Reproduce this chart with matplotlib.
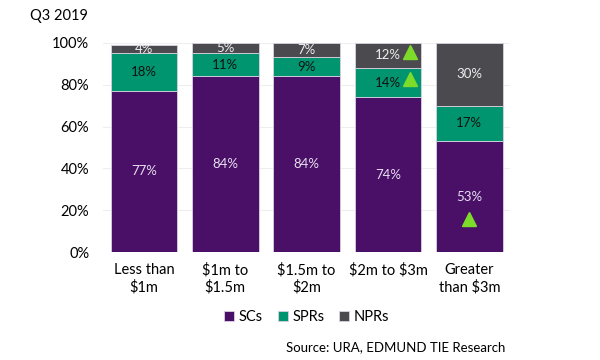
import matplotlib.pyplot as plt
import numpy as np

plt.rcParams["font.family"] = ["Lato", "DejaVu Sans"]
plt.rcParams["text.parse_math"] = False

categories = ["Less than\n$1m", "$1m to\n$1.5m", "$1.5m to\n$2m", "$2m to $3m", "Greater\nthan $3m"]
scs = [77, 84, 84, 74, 53]
sprs = [18, 11, 9, 14, 17]
nprs = [4, 5, 7, 12, 30]
# (bar index, series) pairs flagged with an up-arrow
increases = [(3, "NPRs"), (3, "SPRs"), (4, "SCs")]

colors = {"SCs": "#4a0f67", "SPRs": "#00956f", "NPRs": "#4b4a4f"}
text_colors = {"SCs": "#e6e0ee", "SPRs": "#111111", "NPRs": "#eeeeee"}

fig = plt.figure(figsize=(6, 3.6), dpi=100)
ax = fig.add_axes([0.172, 0.30, 0.678, 0.581])

x = np.arange(len(categories))
width = 0.82
series = [("SCs", scs), ("SPRs", sprs), ("NPRs", nprs)]
bottom = np.zeros(len(categories))
centers = {}
for name, vals in series:
    vals = np.array(vals, dtype=float)
    ax.bar(x, vals, width, bottom=bottom, color=colors[name], edgecolor="#d9d2e3",
           linewidth=0.6, label=name, zorder=2)
    mids = bottom + vals / 2
    centers[name] = mids
    for i, v in enumerate(vals):
        ax.text(x[i], mids[i], f"{int(v)}%", ha="center", va="center",
                fontsize=9.5, color=text_colors[name], zorder=3)
    bottom = bottom + vals

for i, name in increases:
    if name == "SCs":
        ax.plot(x[i], centers[name][i] - 10.5, marker="^", markersize=10,
                color="#7ddc2a", linestyle="none", zorder=4)
    else:
        ax.plot(x[i] + 0.27, centers[name][i] + 1.5, marker="^", markersize=10,
                color="#7ddc2a", linestyle="none", zorder=4)

ax.set_xlim(-0.5, len(categories) - 0.5)
ax.set_ylim(0, 100)
ax.set_yticks(np.arange(0, 101, 20))
ax.set_yticklabels([f"{t}%" for t in range(0, 101, 20)], fontsize=10.5)
ax.set_xticks(x)
ax.set_xticklabels(categories, fontsize=10.5, linespacing=1.25)
ax.tick_params(axis="x", length=0, pad=8)
ax.tick_params(axis="y", length=0, pad=10)
ax.grid(axis="y", color="#eeeeee", linewidth=0.8, zorder=0)
for s in ax.spines.values():
    s.set_visible(False)

ax.legend(loc="center", bbox_to_anchor=(0.5, -0.31), ncol=3, frameon=False,
          fontsize=10.5, handlelength=0.7, handleheight=0.7, handletextpad=0.3,
          columnspacing=1.0)

fig.text(0.05, 0.955, "Q3 2019", fontsize=10.5, ha="left", va="center")
fig.text(0.843, 0.035, "Source: URA, EDMUND TIE Research", fontsize=9.5, ha="right", va="center")

fig.savefig("out.png", dpi=100)
